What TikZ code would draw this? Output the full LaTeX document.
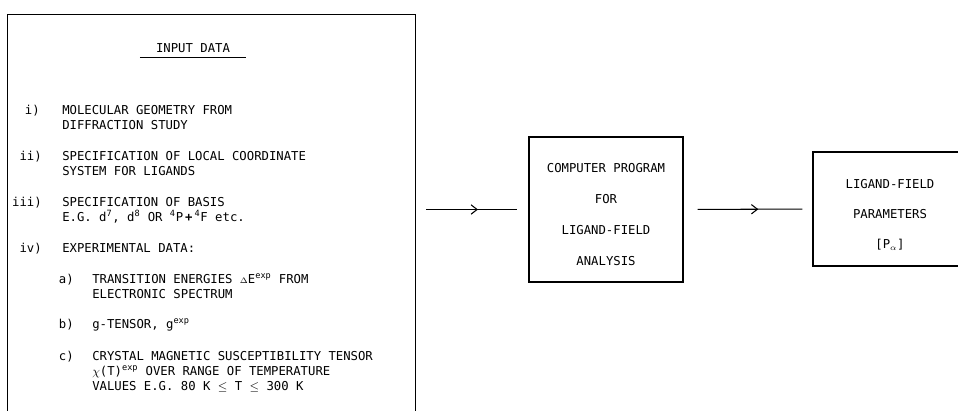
\documentclass[tikz,border=0pt]{standalone}
\usepackage{fontspec}
\setmonofont{DejaVu Sans Mono}
\usetikzlibrary{arrows.meta,positioning,decorations.markings}

\begin{document}
\begin{tikzpicture}[x=0.75pt, y=-0.75pt,
          panel/.style={draw, line width=1.1pt, inner sep=0pt},
          boxtxt/.style={font=\ttfamily\fontsize{9.2}{23.25}\selectfont,
                         align=center, inner sep=0pt},
          txt/.style={font=\ttfamily\fontsize{9.2}{11.25}\selectfont,
                      align=left, inner sep=0pt, anchor=base west},
          tag/.style={font=\ttfamily\fontsize{9.2}{11.25}\selectfont,
                      inner sep=0pt, anchor=base east},
          flow/.style={line width=0.8pt, postaction={decorate},
                       decoration={markings, mark=at position #1 with
                         {\arrow{Straight Barb[length=4.5pt, width=7pt]}}}}
        ]
          \useasboundingbox (0,0) rectangle (958,411);
          \clip (0,0) rectangle (958,411);
          % the three blocks
          \node[panel, anchor=north west, minimum width=306pt,
                minimum height=301pt] (input) at (7,14) {};
          \node[panel, minimum width=115.5pt, minimum height=108.75pt]
            (prog) at (606,209.5) {};
          \node[boxtxt] (progtxt) at ([yshift=-4.1pt]prog.center)
            {COMPUTER PROGRAM\\FOR\\LIGAND-FIELD\\ANALYSIS};
          \node[panel, minimum width=115.5pt, minimum height=85.5pt]
            (param) at (890,209) {};
          \node[boxtxt, font=\ttfamily\fontsize{9.2}{22.5}\selectfont]
            (paramtxt) at ([yshift=-4.5pt]param.center)
            {LIGAND-FIELD\\PARAMETERS\\{[P\textsubscript{$\alpha$}]}};
          % input list (base = baseline of the last line)
          \node[txt, anchor=base, inner xsep=12pt, inner ysep=3.4pt,
                text depth=0pt] (title) at (193,52.5) {INPUT DATA};
          \draw[line width=0.9pt] (title.south west) -- (title.south east);
          \node[tag] (t1) at (40,114.5) {i)};
          \node[txt] (i1) at (62,129.5) {MOLECULAR GEOMETRY FROM\\DIFFRACTION STUDY};
          \node[tag] (t2) at (42,160.5) {ii)};
          \node[txt] (i2) at (62,175.5) {SPECIFICATION OF LOCAL COORDINATE\\SYSTEM FOR LIGANDS};
          \node[tag] (t3) at (42,206.5) {iii)};
          \node[txt] (i3) at (62,221.5) {SPECIFICATION OF BASIS\\E.G. d\textsuperscript{7}, d\textsuperscript{8} OR \textsuperscript{4}P\,\textbf{+}\,\textsuperscript{4}F etc.};
          \node[tag] (t4) at (42,252.5) {iv)};
          \node[txt] (i4) at (62,252.5) {EXPERIMENTAL DATA:};
          \node[tag] (ta) at (74,283.5) {a)};
          \node[txt] (ia) at (92,298.5) {TRANSITION ENERGIES $\scriptstyle\Delta$E\textsuperscript{exp} FROM\\ELECTRONIC SPECTRUM};
          \node[tag] (tb) at (74,328.5) {b)};
          \node[txt] (ib) at (92,328.5) {g-TENSOR, g\textsuperscript{exp}};
          \node[tag] (tc) at (74,360.5) {c)};
          \node[txt] (ic) at (92,390.5) {CRYSTAL MAGNETIC SUSCEPTIBILITY TENSOR\\$\chi$(T)\textsuperscript{exp} OVER RANGE OF TEMPERATURE\\VALUES E.G. 80 K $\leq$ T $\leq$ 300 K};
          % connectors
          \draw[flow=0.55, shorten <=7.5pt, shorten >=8.25pt]
            (input.east |- prog.west) -- (prog.west);
          \draw[flow=0.58, shorten <=10.5pt, shorten >=7.5pt]
            (prog.east) -- (param.west);
        \end{tikzpicture}
\end{document}
